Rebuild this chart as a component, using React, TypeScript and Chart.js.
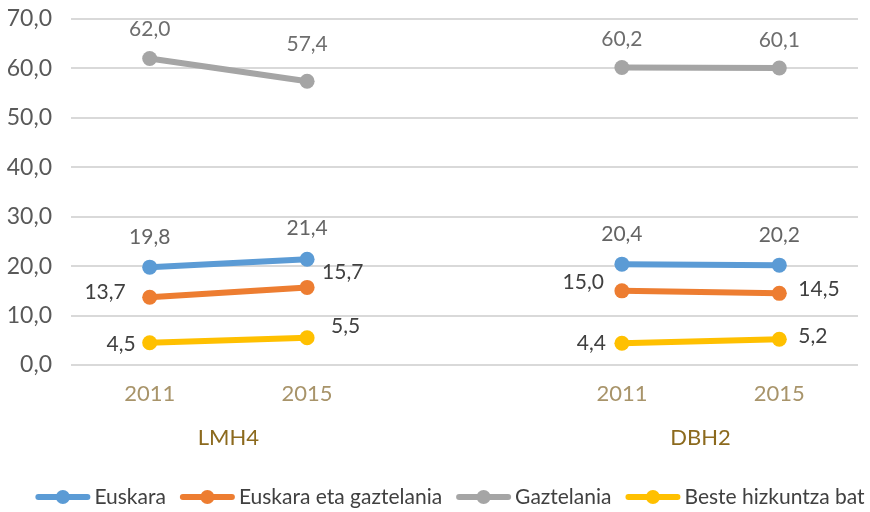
import React, { useEffect, useRef } from 'react';
import { Chart, registerables } from 'chart.js';

Chart.register(...registerables);

const categories = ['2011', '2015', '', '2011', '2015'];
const groupNames = ['LMH4', 'DBH2'];
const groupRanges = [[0, 1], [3, 4]];
const seriesNames = ['Euskara', 'Euskara eta gaztelania', 'Gaztelania', 'Beste hizkuntza bat'];
const euskara = [19.8, 21.4, null, 20.4, 20.2];
const euskaraGaztelania = [13.7, 15.7, null, 15.0, 14.5];
const gaztelania = [62.0, 57.4, null, 60.2, 60.1];
const beste = [4.5, 5.5, null, 4.4, 5.2];
const seriesColors = ['#5B9BD5', '#ED7D31', '#A5A5A5', '#FFC000'];
const yMin = 0;
const yMax = 70;
const yStep = 10;

// label offsets [dx, dy, align] per point (style only)
type Off = [number, number, CanvasTextAlign];
const labelOffsets: Off[][] = [
  [[0, -30, 'center'], [0, -31, 'center'], [0, 0, 'center'], [0, -30, 'center'], [0, -30, 'center']],
  [[-24, -5, 'right'], [15, -15, 'left'], [0, 0, 'center'], [-18, -9, 'right'], [19, -4, 'left']],
  [[0, -29, 'center'], [0, -37, 'center'], [0, 0, 'center'], [0, -28, 'center'], [0, -28, 'center']],
  [[-14, 1, 'right'], [24, -12, 'left'], [0, 0, 'center'], [-16, 0, 'right'], [19, -3, 'left']],
];
const labelColors = ['#646464', '#404040', '#6E6E6E', '#404040'];

const FONT = 'Lato, "Open Sans", sans-serif';
const fmt = (v: number) => v.toFixed(1).replace('.', ',');

const LEGEND_SPACE = 50;

const dataLabelPlugin = {
  id: 'dataLabels',
  afterDatasetsDraw(chart: any) {
    const ctx = chart.ctx;
    ctx.save();
    ctx.font = `21px ${FONT}`;
    ctx.textBaseline = 'middle';
    chart.data.datasets.forEach((ds: any, di: number) => {
      const meta = chart.getDatasetMeta(di);
      meta.data.forEach((pt: any, i: number) => {
        const v = ds.data[i];
        if (v === null || v === undefined) return;
        const [dx, dy, align] = labelOffsets[di][i];
        ctx.fillStyle = labelColors[di];
        ctx.textAlign = align;
        ctx.fillText(fmt(v), pt.x + dx, pt.y + dy);
      });
    });
    ctx.restore();
  },
};

const groupLabelPlugin = {
  id: 'groupLabels',
  afterDraw(chart: any) {
    const ctx = chart.ctx;
    const xs = chart.scales.x;
    ctx.save();
    ctx.font = `22px ${FONT}`;
    ctx.fillStyle = '#8C6A1E';
    ctx.textAlign = 'center';
    ctx.textBaseline = 'middle';
    groupNames.forEach((g, gi) => {
      const [a, b] = groupRanges[gi];
      const x = (xs.getPixelForValue(a) + xs.getPixelForValue(b)) / 2;
      ctx.fillText(g, x, xs.top + 73);
    });
    ctx.restore();
  },
};

const customLegendPlugin = {
  id: 'customLegend',
  afterDraw(chart: any) {
    const ctx = chart.ctx;
    ctx.save();
    ctx.font = `21px ${FONT}`;
    ctx.textBaseline = 'middle';
    ctx.textAlign = 'left';
    const iconW = 55;
    const iconGap = 4;
    const itemGap = 14;
    const widths = seriesNames.map((n) => iconW + iconGap + ctx.measureText(n).width);
    const total = widths.reduce((a, b) => a + b, 0) + itemGap * (seriesNames.length - 1);
    let x = (chart.width - total) / 2 + 15;
    const y = chart.height - 15;
    seriesNames.forEach((n, i) => {
      const c = seriesColors[i];
      ctx.strokeStyle = c;
      ctx.lineWidth = 6;
      ctx.lineCap = 'round';
      ctx.beginPath();
      ctx.moveTo(x + 3, y);
      ctx.lineTo(x + iconW - 3, y);
      ctx.stroke();
      ctx.fillStyle = c;
      ctx.beginPath();
      ctx.arc(x + iconW / 2, y, 7, 0, Math.PI * 2);
      ctx.fill();
      ctx.fillStyle = '#404040';
      ctx.fillText(n, x + iconW + iconGap, y);
      x += widths[i] + itemGap;
    });
    ctx.restore();
  },
};

export default function App() {
  const ref = useRef<HTMLCanvasElement>(null);
  useEffect(() => {
    const seriesData = [euskara, euskaraGaztelania, gaztelania, beste];
    const chart = new Chart(ref.current!, {
      type: 'line',
      data: {
        labels: categories,
        datasets: seriesNames.map((name, i) => ({
          label: name,
          data: seriesData[i],
          borderColor: seriesColors[i],
          backgroundColor: seriesColors[i],
          borderWidth: 6,
          borderCapStyle: 'round' as const,
          pointRadius: 7.5,
          pointHoverRadius: 7.5,
          pointBorderWidth: 0,
          spanGaps: false,
          tension: 0,
        })),
      },
      options: {
        animation: false,
        responsive: true,
        maintainAspectRatio: false,
        layout: { padding: { top: 19, left: 0, right: 12, bottom: LEGEND_SPACE } },
        scales: {
          x: {
            offset: true,
            grid: { display: false },
            border: { display: false },
            ticks: {
              color: '#A8946A',
              font: { family: FONT, size: 22 },
              padding: 8,
            },
            afterFit(scale: any) {
              scale.height = 97;
            },
          },
          y: {
            min: yMin,
            max: yMax,
            grid: { color: '#D9D9D9', lineWidth: 2, drawTicks: false },
            border: { display: false },
            ticks: {
              stepSize: yStep,
              color: '#595959',
              font: { family: FONT, size: 23 },
              padding: 19,
              callback: (v: any) => fmt(Number(v)),
            },
            afterFit(scale: any) {
              scale.width = 71;
              scale.paddingTop = 0;
              scale.paddingBottom = 0;
            },
          },
        },
        plugins: {
          legend: { display: false },
          tooltip: { enabled: false },
        },
      },
      plugins: [dataLabelPlugin, groupLabelPlugin, customLegendPlugin],
    });
    return () => chart.destroy();
  }, []);
  return (
    <div style={{ position: 'fixed', left: 0, top: 0, width: 870, height: 512, background: '#fff' }}>
      <canvas ref={ref} />
    </div>
  );
}
